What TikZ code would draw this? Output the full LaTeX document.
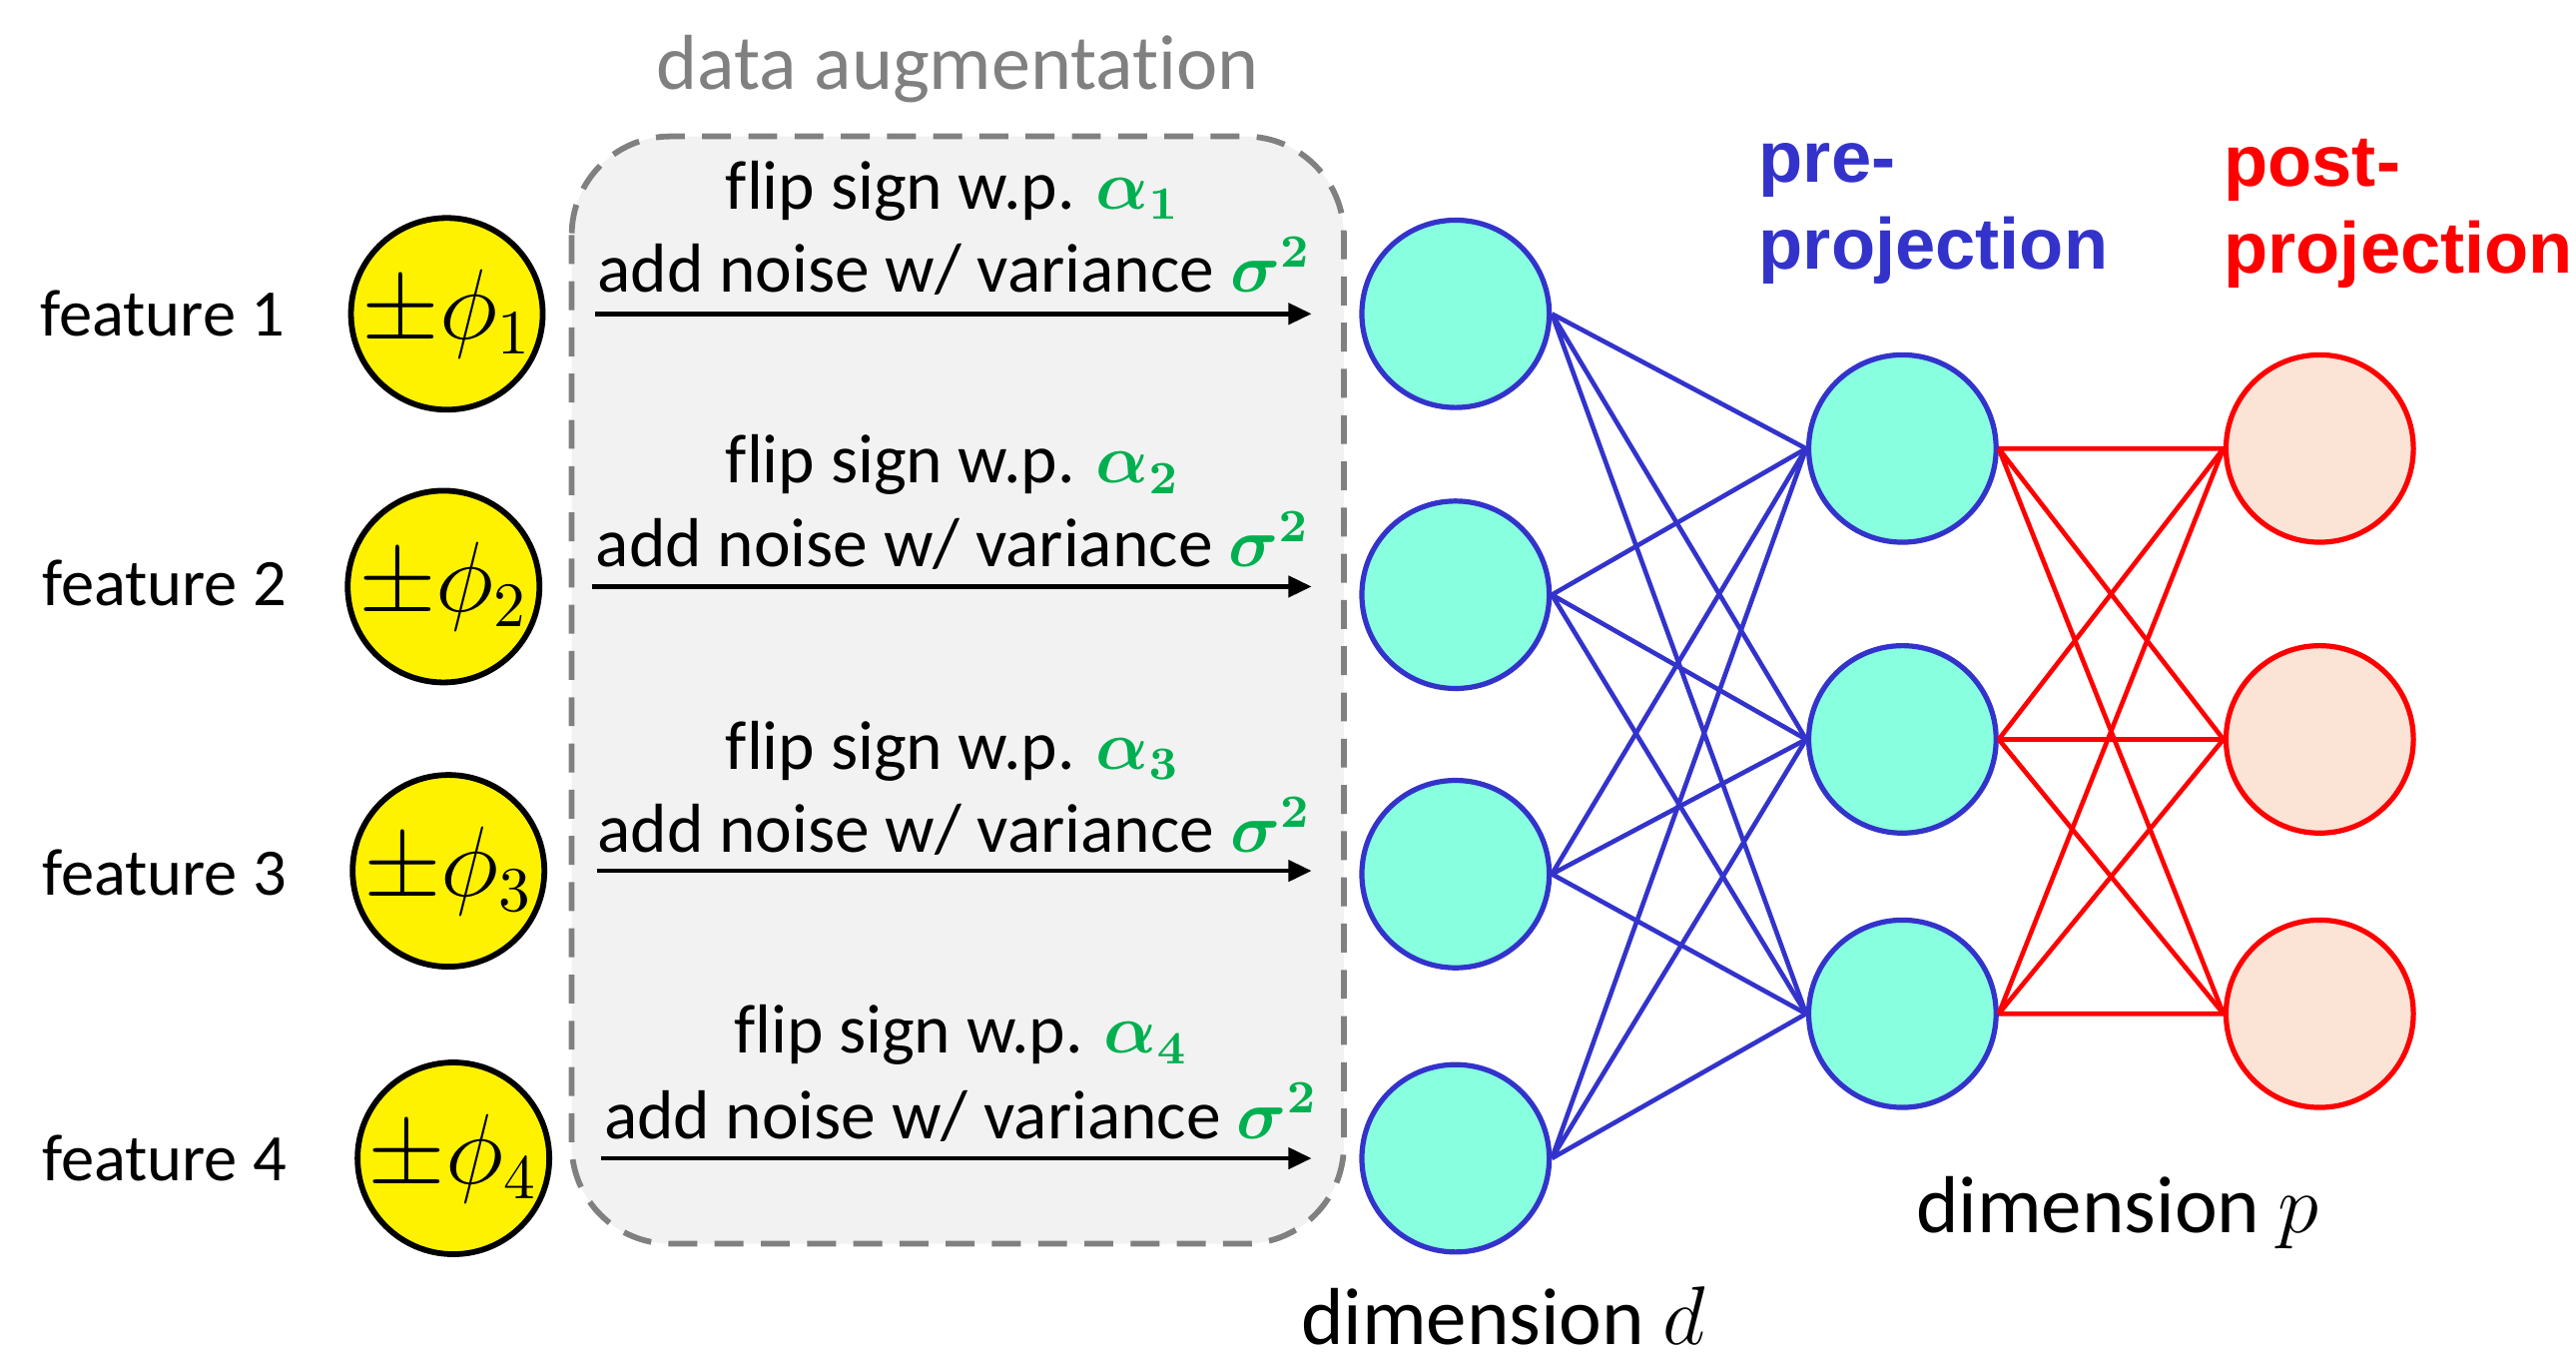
\documentclass[tikz,border=0pt]{standalone}
\usepackage[no-math]{fontspec}
\usepackage{amsmath}
\setmainfont{Carlito}[Ligatures={NoCommon}]
\newfontfamily\headfont{Liberation Sans}
\usetikzlibrary{arrows.meta}

\definecolor{augfill}{HTML}{F2F2F2}
\definecolor{auggray}{HTML}{808080}
\definecolor{preblue}{HTML}{3333CC}
\definecolor{tealfill}{HTML}{88FFDE}
\definecolor{postfill}{HTML}{FBE3D6}
\definecolor{paramgreen}{HTML}{00B050}

\tikzset{
  feat/.style={circle, draw=black, line width=1pt, fill=yellow, minimum size=1.15cm, inner sep=0pt, font=\fontsize{16}{18}\selectfont},
  featlabel/.style={font=\fontsize{11.5}{14}\selectfont},
  dnode/.style={circle, draw=preblue, line width=0.9pt, fill=tealfill, minimum size=1.14cm, inner sep=0pt},
  postnode/.style={circle, draw=red, line width=0.9pt, fill=postfill, minimum size=1.14cm, inner sep=0pt},
  augtext/.style={font=\fontsize{12}{14}\selectfont},
  augarrow/.style={-{Triangle[length=4pt,width=3.6pt]}, line width=0.8pt, shorten <=0.3cm, shorten >=0.29cm},
  dimlabel/.style={font=\fontsize{14}{16}\selectfont, inner sep=1pt},
  headlabel/.style={font=\headfont\bfseries\fontsize{12.5}{15}\selectfont, align=left, anchor=west, inner sep=0pt}
}

\newcommand{\grn}[1]{{\color{paramgreen}$\boldsymbol{#1}$}}

\begin{document}
\begin{tikzpicture}[x=0.01cm, y=-0.01cm]

    % 1. Fix the page size
    \useasboundingbox (0,0) rectangle (1568,829);

    % 2. Data augmentation box
    \draw[draw=auggray, fill=augfill, line width=1pt, dash pattern=on 5pt off 3pt, rounded corners=0.6cm] (348,83) rectangle (818,757);
    \node[text=auggray, font=\fontsize{13.5}{16}\selectfont] (auglabel) at (583,42) {data augmentation};

    % 3. Input features
    \node[feat] (phi1) at (272,191) {$\pm\phi_1$};
    \node[feat] (phi2) at (270,357) {$\pm\phi_2$};
    \node[feat] (phi3) at (273,530) {$\pm\phi_3$};
    \node[feat] (phi4) at (276,705) {$\pm\phi_4$};
    \node[featlabel] (f1) at (99,191) {feature 1};
    \node[featlabel] (f2) at (100,355) {feature 2};
    \node[featlabel] (f3) at (100,531) {feature 3};
    \node[featlabel] (f4) at (100,705) {feature 4};

    % 4. Layer of dimension d
    \node[dnode] (d1) at (886,191) {};
    \node[dnode] (d2) at (886,362) {};
    \node[dnode] (d3) at (886,532) {};
    \node[dnode] (d4) at (886,705) {};
    \node[dimlabel] (dimd) at (915,801) {dimension $d$};

    % 5. Pre-projection layer
    \node[dnode] (p1) at (1158,273) {};
    \node[dnode] (p2) at (1158,450) {};
    \node[dnode] (p3) at (1158,617) {};
    \node[headlabel, text=preblue] (prelabel) at (1070,130) {pre-\\projection};

    % 6. Post-projection layer
    \node[postnode] (q1) at (1412,273) {};
    \node[postnode] (q2) at (1412,450) {};
    \node[postnode] (q3) at (1412,617) {};
    \node[headlabel, text=red] (postlabel) at (1353,130) {post-\\projection};
    \node[dimlabel] (dimp) at (1289,738) {dimension $p$};

    % 7. Augmentation arrows with their texts
    \draw[augarrow] (phi1.east) -- (phi1.east -| d1.west);
    \draw[augarrow] (phi2.east) -- (phi2.east -| d2.west);
    \draw[augarrow] (phi3.east) -- (phi3.east -| d3.west);
    \draw[augarrow] (phi4.east) -- (phi4.east -| d4.west);
    \node[augtext] (flip1) at (580,116) {flip sign w.p. \grn{\alpha_1}};
    \node[augtext] (noise1) at (581,162) {add noise w/ variance \grn{\sigma^2}};
    \node[augtext] (flip2) at (580,283) {flip sign w.p. \grn{\alpha_2}};
    \node[augtext] (noise2) at (580,329) {add noise w/ variance \grn{\sigma^2}};
    \node[augtext] (flip3) at (580,457) {flip sign w.p. \grn{\alpha_3}};
    \node[augtext] (noise3) at (581,503) {add noise w/ variance \grn{\sigma^2}};
    \node[augtext] (flip4) at (585,630) {flip sign w.p. \grn{\alpha_4}};
    \node[augtext] (noise4) at (585,677) {add noise w/ variance \grn{\sigma^2}};

    % 8. Blue links d -> pre-projection
    \draw[preblue, line width=0.8pt] (d1.east) -- (p1.west) (d1.east) -- (p2.west) (d1.east) -- (p3.west);
    \draw[preblue, line width=0.8pt] (d2.east) -- (p1.west) (d2.east) -- (p2.west) (d2.east) -- (p3.west);
    \draw[preblue, line width=0.8pt] (d3.east) -- (p1.west) (d3.east) -- (p2.west) (d3.east) -- (p3.west);
    \draw[preblue, line width=0.8pt] (d4.east) -- (p1.west) (d4.east) -- (p2.west) (d4.east) -- (p3.west);

    % 9. Red links pre -> post-projection
    \draw[red, line width=0.8pt] (p1.east) -- (q1.west) (p1.east) -- (q2.west) (p1.east) -- (q3.west);
    \draw[red, line width=0.8pt] (p2.east) -- (q1.west) (p2.east) -- (q2.west) (p2.east) -- (q3.west);
    \draw[red, line width=0.8pt] (p3.east) -- (q1.west) (p3.east) -- (q2.west) (p3.east) -- (q3.west);

\end{tikzpicture}
\end{document}
